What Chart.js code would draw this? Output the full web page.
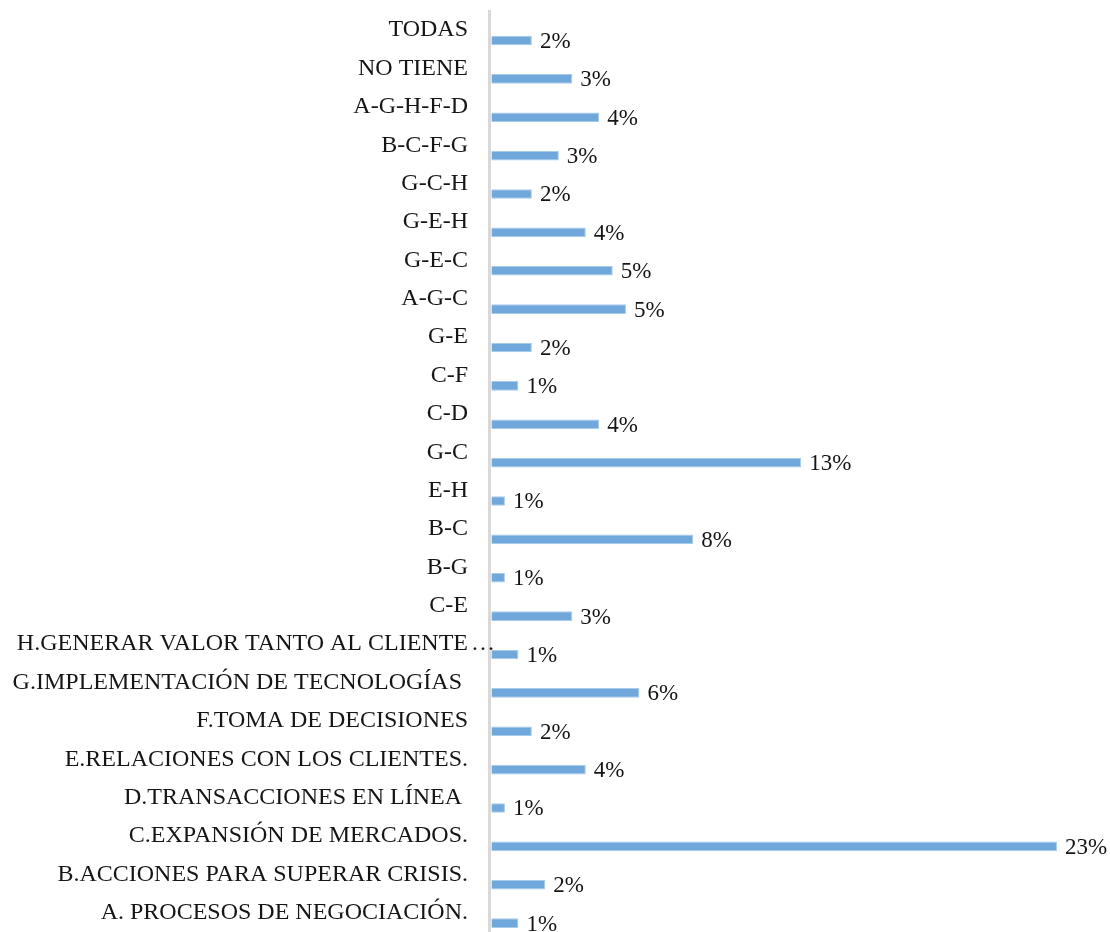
<!DOCTYPE html>
<html>
<head>
<meta charset="utf-8">
<script src="https://cdn.jsdelivr.net/npm/chart.js@4.4.1/dist/chart.umd.min.js"></script>
<style>
  html, body { margin: 0; padding: 0; background: #ffffff; }
  #wrap { position: relative; width: 1110px; height: 932px; }
</style>
</head>
<body>
<div id="wrap"><canvas id="c"></canvas></div>
<script>
const categories = [
  "TODAS",
  "NO TIENE",
  "A-G-H-F-D",
  "B-C-F-G",
  "G-C-H",
  "G-E-H",
  "G-E-C",
  "A-G-C",
  "G-E",
  "C-F",
  "C-D",
  "G-C",
  "E-H",
  "B-C",
  "B-G",
  "C-E",
  "H.GENERAR VALOR TANTO AL CLIENTE\u2026",
  "G.IMPLEMENTACI\u00d3N DE TECNOLOG\u00cdAS ",
  "F.TOMA DE DECISIONES",
  "E.RELACIONES CON LOS CLIENTES.",
  "D.TRANSACCIONES EN L\u00cdNEA ",
  "C.EXPANSI\u00d3N DE MERCADOS.",
  "B.ACCIONES PARA SUPERAR CRISIS.",
  "A. PROCESOS DE NEGOCIACI\u00d3N."
];

// percentages
const values = [
  1.65, 3.30, 4.40, 2.75, 1.65, 3.85, 4.95, 5.49,
  1.65, 1.10, 4.40, 12.64, 0.55, 8.24, 0.55, 3.30,
  1.10, 6.04, 1.65, 3.85, 0.55, 23.08, 2.20, 1.10
];

// data labels as printed on the chart
const valueLabels = [
  "2%", "3%", "4%", "3%", "2%", "4%", "5%", "5%",
  "2%", "1%", "4%", "13%", "1%", "8%", "1%", "3%",
  "1%", "6%", "2%", "4%", "1%", "23%", "2%", "1%"
];

const emptySeries = categories.map(() => null);

const FONT_FAMILY = "'Liberation Serif', 'Times New Roman', Tinos, Times, serif";
const ELLIPSIS = "\u2026";

const labelPlugin = {
  id: 'valueLabelPlugin',
  afterDatasetsDraw(chart) {
    const meta = chart.getDatasetMeta(1);
    const ctx = chart.ctx;
    ctx.save();
    ctx.font = '23px ' + FONT_FAMILY;
    ctx.fillStyle = '#151515';
    ctx.textBaseline = 'middle';
    ctx.textAlign = 'left';
    meta.data.forEach((bar, i) => {
      ctx.fillText(valueLabels[i], bar.x + 8, bar.y + 1.5);
    });
    // truncated category label: ellipsis hangs past the label column, as in the source
    const yScale = chart.scales.y;
    ctx.font = '24px ' + FONT_FAMILY;
    categories.forEach((c, i) => {
      if (c.endsWith(ELLIPSIS)) {
        ctx.fillText(ELLIPSIS, yScale.right - 18, yScale.getPixelForTick(i));
      }
    });
    ctx.restore();
  }
};

new Chart(document.getElementById('c'), {
  type: 'bar',
  data: {
    labels: categories,
    datasets: [
      {
        label: '',
        data: emptySeries,
        backgroundColor: 'rgba(0,0,0,0)'
      },
      {
        label: 'Serie',
        data: values,
        backgroundColor: '#70a8dc',
        borderColor: '#a8cbea',
        borderWidth: 1,
        borderSkipped: 'start'
      }
    ]
  },
  options: {
    indexAxis: 'y',
    responsive: true,
    maintainAspectRatio: false,
    animation: false,
    categoryPercentage: 1.07,
    barPercentage: 0.47,
    layout: { padding: { top: 11, bottom: 0, left: 0, right: 6 } },
    plugins: {
      legend: { display: false },
      tooltip: { enabled: false }
    },
    scales: {
      x: {
        display: false,
        min: -0.1,
        max: 25
      },
      y: {
        offset: true,
        afterFit(scale) {
          scale.width = 489;
          scale.paddingTop = 0;
          scale.paddingBottom = 0;
        },
        grid: { display: false, drawTicks: false },
        border: { display: true, color: '#d9d9d9', width: 3 },
        ticks: {
          autoSkip: false,
          padding: 21,
          color: '#151515',
          font: { family: FONT_FAMILY, size: 24 },
          callback(value, index) {
            const c = categories[index];
            return c.endsWith(ELLIPSIS) ? c.slice(0, -1) : c;
          }
        }
      }
    }
  },
  plugins: [labelPlugin]
});
</script>
</body>
</html>
